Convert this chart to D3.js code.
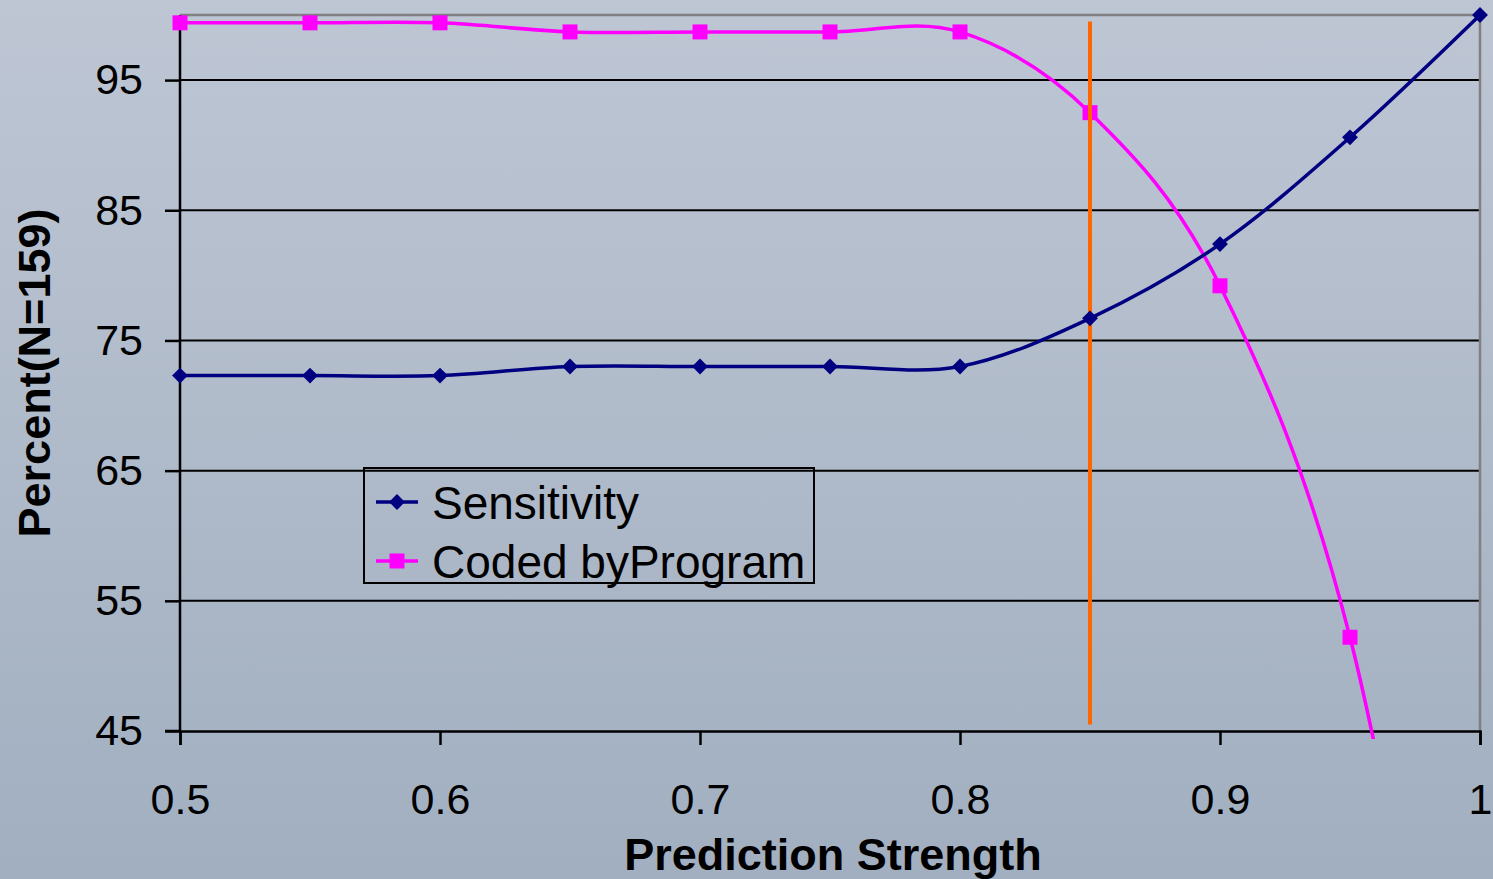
<!DOCTYPE html>
<html>
<head>
<meta charset="utf-8">
<script src="https://cdn.jsdelivr.net/npm/d3@7"></script>
<style>
  html, body { margin: 0; padding: 0; }
  body { width: 1493px; height: 879px; overflow: hidden; }
  svg { display: block; font-family: Arial, "Liberation Sans", sans-serif; }
</style>
</head>
<body>
<div id="chart"></div>
<script>
// values (percent of N=159)
const predictionStrength = [0.5, 0.55, 0.6, 0.65, 0.7, 0.75, 0.8, 0.85, 0.9, 0.95, 1.0];
const sensitivity = [72.3, 72.3, 72.3, 73.0, 73.0, 73.0, 73.0, 76.7, 82.4, 90.6, 100];
const codedByProgram = [99.4, 99.4, 99.4, 98.7, 98.7, 98.7, 98.7, 92.5, 79.2, 52.2, 1];
const seriesNames = ['Sensitivity', 'Coded byProgram'];
const xTicks = [0.5, 0.6, 0.7, 0.8, 0.9, 1];
const yTicks = [45, 55, 65, 75, 85, 95];
const cutoff = 0.85;
const cutoffRange = [45.5, 99.5];

const width = 1493, height = 879;
const plot = { left: 180, right: 1480, top: 15, bottom: 731 };

const svg = d3.select('#chart')
  .append('svg')
  .attr('width', width)
  .attr('height', height);

const defs = svg.append('defs');
const grad = defs.append('linearGradient')
  .attr('id', 'bg')
  .attr('x1', 0).attr('y1', 0).attr('x2', 0).attr('y2', 1);
grad.append('stop').attr('offset', '0%').attr('stop-color', '#bec6d4');
grad.append('stop').attr('offset', '100%').attr('stop-color', '#a1afc0');

defs.append('clipPath').attr('id', 'clip')
  .append('rect')
  .attr('x', plot.left - 10).attr('y', 0)
  .attr('width', plot.right - plot.left + 20)
  .attr('height', plot.bottom + 8);

svg.append('rect')
  .attr('width', width).attr('height', height)
  .attr('fill', 'url(#bg)');

const x = d3.scaleLinear().domain([0.5, 1]).range([plot.left, plot.right]);
const y = d3.scaleLinear().domain([45, 100]).range([plot.bottom, plot.top]);

// grid lines
svg.append('g')
  .selectAll('line')
  .data(yTicks.slice(1))
  .join('line')
  .attr('x1', plot.left).attr('x2', plot.right)
  .attr('y1', d => y(d)).attr('y2', d => y(d))
  .attr('stroke', '#000').attr('stroke-width', 2);

// top & right border
svg.append('path')
  .attr('d', `M${plot.left},${y(100)}H${plot.right}V${plot.bottom}`)
  .attr('fill', 'none')
  .attr('stroke', '#808080')
  .attr('stroke-width', 2.5);

// axes
const xAxis = d3.axisBottom(x)
  .tickValues(xTicks)
  .tickSize(14)
  .tickPadding(38)
  .tickFormat(d => d === 1 ? '1' : d3.format('.1f')(d));

const gx = svg.append('g')
  .attr('transform', `translate(0,${plot.bottom})`)
  .call(xAxis);
gx.select('.domain').attr('stroke', '#000').attr('stroke-width', 2.5);
gx.selectAll('.tick line').attr('stroke', '#000').attr('stroke-width', 2.5);
gx.selectAll('.tick text')
  .attr('fill', '#000')
  .style('font-size', '43px');

const yAxis = d3.axisLeft(y)
  .tickValues(yTicks)
  .tickSize(15)
  .tickPadding(22);

const gy = svg.append('g')
  .attr('transform', `translate(${plot.left},0)`)
  .call(yAxis);
gy.select('.domain').attr('stroke', '#000').attr('stroke-width', 2.5)
  .attr('d', `M-15,${plot.bottom}H0V${y(100)}`);
gy.selectAll('.tick line').attr('stroke', '#000').attr('stroke-width', 2.5);
gy.selectAll('.tick text')
  .attr('fill', '#000')
  .style('font-size', '43px');

// axis titles
svg.append('text')
  .attr('x', 833)
  .attr('y', 870)
  .attr('text-anchor', 'middle')
  .style('font-size', '45px')
  .style('font-weight', 'bold')
  .text('Prediction Strength');

svg.append('text')
  .attr('transform', `translate(50,${(plot.top + plot.bottom) / 2}) rotate(-90)`)
  .attr('text-anchor', 'middle')
  .style('font-size', '45px')
  .style('font-weight', 'bold')
  .text('Percent(N=159)');

// series
const line = d3.line()
  .x(d => x(d[0]))
  .y(d => y(d[1]))
  .curve(d3.curveCatmullRom.alpha(0));

const sensData = predictionStrength.map((p, i) => [p, sensitivity[i]]);
const codedData = predictionStrength.map((p, i) => [p, codedByProgram[i]]);

const series = svg.append('g').attr('clip-path', 'url(#clip)');

series.append('path')
  .datum(codedData)
  .attr('d', line)
  .attr('fill', 'none')
  .attr('stroke', '#ff00ff')
  .attr('stroke-width', 3.5);

series.append('path')
  .datum(sensData)
  .attr('d', line)
  .attr('fill', 'none')
  .attr('stroke', '#000080')
  .attr('stroke-width', 3.5);

// cutoff line
svg.append('line')
  .attr('x1', x(cutoff)).attr('x2', x(cutoff))
  .attr('y1', y(cutoffRange[1])).attr('y2', y(cutoffRange[0]))
  .attr('stroke', '#ff6600')
  .attr('stroke-width', 4);

const square = d3.symbol().type(d3.symbolSquare).size(225);
const diamond = d3.symbol().type(d3.symbolDiamond2).size(160);

series.selectAll('.sq')
  .data(codedData.filter(d => d[1] >= 45))
  .join('path')
  .attr('class', 'sq')
  .attr('transform', d => `translate(${x(d[0])},${y(d[1])})`)
  .attr('d', square)
  .attr('fill', '#ff00ff');

svg.selectAll('.dm')
  .data(sensData)
  .join('path')
  .attr('class', 'dm')
  .attr('transform', d => `translate(${x(d[0])},${y(d[1])})`)
  .attr('d', diamond)
  .attr('fill', '#000080');

// legend
const legend = svg.append('g').attr('transform', 'translate(364,468)');
legend.append('rect')
  .attr('width', 450).attr('height', 115)
  .attr('fill', 'none')
  .attr('stroke', '#000')
  .attr('stroke-width', 2);

const legendColors = ['#000080', '#ff00ff'];
const legendSymbols = [diamond, square];
const rows = legend.selectAll('.row')
  .data(seriesNames)
  .join('g')
  .attr('class', 'row')
  .attr('transform', (d, i) => `translate(0,${34 + i * 59})`);

rows.append('line')
  .attr('x1', 12).attr('x2', 54)
  .attr('stroke', (d, i) => legendColors[i])
  .attr('stroke-width', 3.5);
rows.append('path')
  .attr('transform', 'translate(33,0)')
  .attr('d', (d, i) => legendSymbols[i]())
  .attr('fill', (d, i) => legendColors[i]);
rows.append('text')
  .attr('x', 68)
  .attr('dy', '0.36em')
  .style('font-size', '46px')
  .text(d => d);
</script>
</body>
</html>
